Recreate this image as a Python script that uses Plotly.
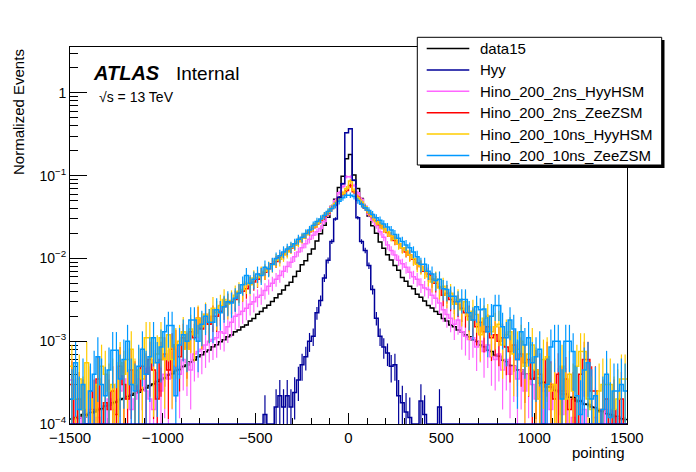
import numpy as np
import plotly.graph_objects as go

# ---------------- data ----------------
X_MIN, X_MAX, BIN_WIDTH = -1500, 1500, 20
Y_MIN_LOG, Y_MAX_LOG = -4.0, 0.554

DATA15 = [
    1.15e-4, 1.2e-4, 1.18e-4, 1.3e-4, 1.28e-4, 1.38e-4, 1.4e-4, 1.5e-4, 1.53e-4, 1.65e-4, 1.68e-4, 1.8e-4, 1.85e-4, 1.97e-4, 2.03e-4,
    2.15e-4, 2.22e-4, 2.36e-4, 2.42e-4, 2.6e-4, 2.72e-4, 2.92e-4, 3.05e-4, 3.25e-4, 3.45e-4, 3.6e-4, 3.92e-4, 4.05e-4, 4.45e-4, 4.55e-4,
    4.95e-4, 5.15e-4, 5.6e-4, 5.95e-4, 6.5e-4, 6.85e-4, 7.45e-4, 7.85e-4, 8.55e-4, 9.05e-4, 9.85e-4, 1.04e-3, 1.13e-3, 1.19e-3, 1.3e-3,
    1.37e-3, 1.49e-3, 1.57e-3, 1.75e-3, 1.88e-3, 2.12e-3, 2.28e-3, 2.52e-3, 2.72e-3, 3.02e-3, 3.35e-3, 3.72e-3, 4.15e-3, 4.72e-3, 5.15e-3,
    6.05e-3, 7.0e-3, 8.4e-3, 9.4e-3, 1.13e-2, 1.3e-2, 1.62e-2, 1.98e-2, 2.52e-2, 3.15e-2, 4.25e-2, 5.2e-2, 7.2e-2, 0.098, 0.16,
    0.18, 0.102, 0.07, 0.053, 0.041, 0.0325, 0.0248, 0.0202, 0.0158, 0.0133, 0.0111, 0.0096, 0.0082, 0.0072, 0.0059,
    0.0053, 0.0046, 0.0043, 0.0037, 0.0034, 0.00305, 0.0027, 0.00252, 0.00228, 0.00212, 0.00188, 0.00176, 0.00157, 0.0015, 0.00137,
    0.0013, 0.00119, 0.00113, 0.00104, 0.00099, 0.0009, 0.00086, 0.00078, 0.00075, 0.00068, 0.00066, 0.00059, 0.00057, 0.00051, 0.0005,
    0.00045, 0.00045, 0.0004, 0.0004, 0.00035, 0.00036, 0.00031, 0.00032, 0.00028, 0.00028, 0.000255, 0.00025, 0.00023, 0.00023, 0.00021,
    0.00021, 0.00019, 0.00019, 0.000175, 0.000172, 0.00016, 0.000157, 0.000145, 0.000143, 0.000133, 0.00013, 0.000124, 0.000121, 0.000116, 0.000113,
]

HYY = [
    0, 0, 0, 0, 0, 0, 0, 0, 0, 0, 0, 0, 0, 0, 0,
    0, 0, 0, 0, 0, 0, 0, 0, 0, 0, 0, 0, 0, 0, 0,
    0, 0, 0, 0, 0, 0, 0, 0, 0, 0, 0, 0, 0, 0, 0,
    0, 0, 0, 0, 0, 0, 0, 1.3e-4, 0, 0, 1.6e-4, 2.2e-4, 1.6e-4, 2.2e-4, 1.6e-4,
    2.4e-4, 3.4e-4, 5.2e-4, 6.5e-4, 1.0e-3, 1.15e-3, 2.2e-3, 3.1e-3, 5.8e-3, 9.5e-3, 1.6e-2, 3.0e-2, 5.5e-2, 8.0e-2, 0.33,
    0.368, 0.088, 0.031, 0.016, 0.0125, 0.0082, 0.0042, 0.0019, 0.00115, 0.00085, 0.00072, 0.0005, 0.00052, 0.00022, 0.00018,
    0.00014, 0.00012, 0, 0, 0.00019, 0.00013, 0, 0, 0, 0.00016, 0, 0, 0, 0, 0,
    0, 0, 0, 0, 0, 0, 0, 0, 0, 0, 0, 0, 0, 0, 0,
    0, 0, 0, 0, 0, 0, 0, 0, 0, 0, 0, 0, 0, 0, 0,
    0, 0, 0, 0, 0, 0, 0, 0, 0, 0, 0, 0, 0, 0, 0,
]

HINO_2NS_HYYHSM = [
    3.4e-4, 0, 1.2e-4, 0, 0, 1.5e-4, 0, 1.2e-4, 0, 0, 2.0e-4, 1.5e-4, 0, 2.5e-4, 3.5e-4,
    2.0e-4, 1.5e-4, 2.0e-4, 3.5e-4, 3.5e-4, 2.5e-4, 2.0e-4, 1.5e-4, 3.0e-4, 2.5e-4, 4.0e-4, 3.5e-4, 4.5e-4, 5.0e-4, 4.0e-4,
    6.0e-4, 5.5e-4, 4.5e-4, 7.0e-4, 7.5e-4, 8.0e-4, 9.0e-4, 1.0e-3, 1.05e-3, 1.1e-3, 1.3e-3, 1.25e-3, 1.5e-3, 1.7e-3, 2.0e-3,
    2.1e-3, 2.3e-3, 2.5e-3, 2.8e-3, 3.0e-3, 3.4e-3, 3.6e-3, 4.1e-3, 4.6e-3, 5.0e-3, 5.6e-3, 6.2e-3, 7.0e-3, 8.0e-3, 9.0e-3,
    1.05e-2, 1.2e-2, 1.35e-2, 1.5e-2, 1.7e-2, 1.9e-2, 2.1e-2, 2.3e-2, 2.8e-2, 3.4e-2, 4.2e-2, 5.0e-2, 6.2e-2, 7.4e-2, 9.7e-2,
    9.7e-2, 7.6e-2, 6.2e-2, 5.2e-2, 4.3e-2, 3.4e-2, 2.9e-2, 2.5e-2, 2.1e-2, 1.8e-2, 1.45e-2, 1.25e-2, 1.1e-2, 9.5e-3, 8.6e-3,
    7.8e-3, 6.8e-3, 6.0e-3, 5.6e-3, 4.8e-3, 4.4e-3, 4.2e-3, 3.6e-3, 3.3e-3, 2.9e-3, 2.4e-3, 2.1e-3, 1.9e-3, 1.6e-3, 1.8e-3,
    1.3e-3, 1.15e-3, 1.05e-3, 1.1e-3, 8.5e-4, 1.0e-3, 7.5e-4, 9.0e-4, 6.5e-4, 6.0e-4, 7.0e-4, 4.5e-4, 6.0e-4, 4.0e-4, 5.0e-4,
    3.5e-4, 4.5e-4, 2.5e-4, 4.0e-4, 3.0e-4, 2.0e-4, 3.5e-4, 2.5e-4, 2.5e-4, 1.5e-4, 3.0e-4, 2.5e-4, 1.3e-4, 2.5e-4, 0,
    1.2e-4, 0, 0, 1.5e-4, 0, 0, 1.2e-4, 0, 0, 1.5e-4, 0, 0, 1.2e-4, 0, 0,
]

HINO_2NS_ZEEZSM = [
    3.0e-4, 0, 2.0e-4, 1.5e-4, 0, 2.5e-4, 1.5e-4, 3.5e-4, 0, 1.8e-4, 1.5e-4, 2.5e-4, 1.3e-4, 5.0e-4, 3.0e-4,
    2.0e-4, 4.5e-4, 3.0e-4, 2.5e-4, 5.0e-4, 4.0e-4, 6.0e-4, 4.5e-4, 2.0e-4, 6.0e-4, 7.0e-4, 4.5e-4, 8.0e-4, 9.0e-4, 6.5e-4,
    1.1e-3, 8.0e-4, 1.3e-3, 1.1e-3, 1.9e-3, 1.4e-3, 2.1e-3, 1.6e-3, 2.0e-3, 2.0e-3, 2.3e-3, 2.6e-3, 2.9e-3, 3.0e-3, 3.2e-3,
    3.9e-3, 4.0e-3, 4.3e-3, 4.9e-3, 5.2e-3, 5.6e-3, 6.5e-3, 6.8e-3, 7.5e-3, 8.6e-3, 9.2e-3, 1.03e-2, 1.12e-2, 1.22e-2, 1.33e-2,
    1.45e-2, 1.6e-2, 1.75e-2, 1.95e-2, 2.1e-2, 2.35e-2, 2.6e-2, 2.9e-2, 3.2e-2, 3.55e-2, 4.0e-2, 4.5e-2, 5.2e-2, 6.0e-2, 6.6e-2,
    7.6e-2, 6.4e-2, 5.5e-2, 4.6e-2, 4.1e-2, 3.6e-2, 3.2e-2, 2.85e-2, 2.55e-2, 2.3e-2, 2.05e-2, 1.85e-2, 1.65e-2, 1.5e-2, 1.35e-2,
    1.2e-2, 1.1e-2, 9.8e-3, 8.8e-3, 8.0e-3, 7.0e-3, 6.5e-3, 5.6e-3, 5.0e-3, 4.5e-3, 3.6e-3, 3.8e-3, 3.2e-3, 3.0e-3, 2.8e-3,
    2.5e-3, 2.2e-3, 2.0e-3, 1.8e-3, 1.5e-3, 1.7e-3, 1.3e-3, 1.5e-3, 1.1e-3, 1.2e-3, 1.0e-3, 1.1e-3, 8.5e-4, 7.5e-4, 9.0e-4,
    6.0e-4, 7.0e-4, 5.5e-4, 6.0e-4, 3.5e-4, 4.5e-4, 4.0e-4, 0, 6.0e-4, 3.0e-4, 2.0e-4, 4.0e-4, 2.5e-4, 3.5e-4, 1.5e-4,
    2.0e-4, 0, 4.0e-4, 6.0e-4, 6.0e-4, 2.5e-4, 2.5e-4, 0, 1.5e-4, 2.0e-4, 0, 1.5e-4, 0, 2.0e-4, 0,
]

HINO_10NS_HYYHSM = [
    5.0e-4, 2.0e-4, 3.5e-4, 1.5e-4, 5.5e-4, 2.0e-4, 0, 3.0e-4, 5.0e-4, 4.0e-4, 2.5e-4, 3.0e-4, 0, 5.5e-4, 4.0e-4,
    6.0e-4, 8.0e-4, 3.0e-4, 4.5e-4, 3.5e-4, 1.1e-3, 1.1e-3, 5.5e-4, 7.0e-4, 1.1e-3, 6.0e-4, 1.2e-3, 6.0e-4, 9.0e-4, 1.0e-3,
    1.3e-3, 8.0e-4, 1.4e-3, 1.2e-3, 1.9e-3, 1.5e-3, 2.1e-3, 1.7e-3, 2.5e-3, 2.2e-3, 2.7e-3, 3.2e-3, 2.8e-3, 3.1e-3, 3.6e-3,
    4.0e-3, 4.2e-3, 5.0e-3, 4.8e-3, 5.8e-3, 5.9e-3, 6.5e-3, 7.0e-3, 7.6e-3, 8.4e-3, 9.5e-3, 9.8e-3, 1.1e-2, 1.2e-2, 1.35e-2,
    1.45e-2, 1.6e-2, 1.75e-2, 1.95e-2, 2.15e-2, 2.4e-2, 2.65e-2, 2.95e-2, 3.3e-2, 3.6e-2, 4.1e-2, 4.6e-2, 5.2e-2, 6.1e-2, 7.0e-2,
    8.6e-2, 6.6e-2, 5.4e-2, 4.8e-2, 4.2e-2, 3.6e-2, 3.2e-2, 2.8e-2, 2.6e-2, 2.3e-2, 2.1e-2, 1.85e-2, 1.7e-2, 1.5e-2, 1.35e-2,
    1.25e-2, 1.1e-2, 1.0e-2, 8.5e-3, 8.0e-3, 7.2e-3, 6.0e-3, 5.2e-3, 5.6e-3, 4.4e-3, 4.6e-3, 3.6e-3, 3.8e-3, 2.8e-3, 3.2e-3,
    2.4e-3, 3.0e-3, 1.8e-3, 2.3e-3, 2.1e-3, 1.2e-3, 1.9e-3, 2.0e-3, 1.3e-3, 1.5e-3, 1.6e-3, 9.0e-4, 1.2e-3, 1.3e-3, 7.0e-4,
    8.0e-4, 1.0e-3, 5.0e-4, 7.0e-4, 9.0e-4, 4.5e-4, 2.0e-4, 6.0e-4, 6.5e-4, 2.5e-4, 3.0e-4, 0, 5.0e-4, 2.0e-4, 4.0e-4,
    2.5e-4, 5.0e-4, 7.5e-4, 7.5e-4, 2.0e-4, 1.5e-4, 0, 2.5e-4, 3.0e-4, 3.0e-4, 3.0e-4, 1.5e-4, 2.0e-4, 3.5e-4, 3.5e-4,
]

HINO_10NS_ZEEZSM = [
    2.0e-4, 5.5e-4, 1.5e-4, 3.0e-4, 0, 2.5e-4, 4.0e-4, 6.5e-4, 3.0e-4, 2.2e-4, 4.5e-4, 7.8e-4, 7.8e-4, 3.5e-4, 6.0e-4,
    1.0e-3, 3.0e-4, 2.5e-4, 5.0e-4, 8.0e-4, 4.0e-4, 6.5e-4, 1.1e-3, 5.5e-4, 8.5e-4, 1.3e-3, 1.55e-3, 1.55e-3, 2.2e-4, 9.0e-4,
    1.2e-3, 1.0e-3, 1.8e-3, 1.8e-3, 1.0e-3, 1.6e-3, 2.0e-3, 1.7e-3, 1.7e-3, 2.4e-3, 2.2e-3, 2.6e-3, 3.0e-3, 2.9e-3, 3.3e-3,
    3.8e-3, 4.8e-3, 6.2e-3, 5.0e-3, 5.6e-3, 6.5e-3, 6.2e-3, 7.8e-3, 7.5e-3, 8.5e-3, 1.0e-2, 1.08e-2, 1.2e-2, 1.3e-2, 1.38e-2,
    1.5e-2, 1.7e-2, 1.8e-2, 2.0e-2, 2.2e-2, 2.5e-2, 2.8e-2, 3.0e-2, 3.3e-2, 3.7e-2, 4.0e-2, 4.4e-2, 4.9e-2, 5.4e-2, 5.8e-2,
    5.8e-2, 5.6e-2, 5.0e-2, 4.5e-2, 4.1e-2, 3.8e-2, 3.4e-2, 3.1e-2, 2.9e-2, 2.6e-2, 2.4e-2, 2.2e-2, 1.95e-2, 1.75e-2, 1.6e-2,
    1.45e-2, 1.35e-2, 1.2e-2, 1.05e-2, 8.5e-3, 8.5e-3, 7.0e-3, 6.5e-3, 5.4e-3, 5.6e-3, 4.3e-3, 4.2e-3, 3.5e-3, 3.5e-3, 3.0e-3,
    3.2e-3, 3.2e-3, 2.2e-3, 1.8e-3, 2.6e-3, 2.4e-3, 2.45e-3, 1.3e-3, 2.0e-3, 2.7e-3, 2.7e-3, 1.5e-3, 1.1e-3, 1.8e-3, 1.4e-3,
    6.0e-4, 1.3e-3, 9.0e-4, 1.1e-3, 5.5e-4, 6.5e-4, 8.0e-4, 0, 3.0e-4, 8.5e-4, 1.0e-3, 1.0e-3, 2.0e-4, 1.0e-3, 1.0e-3,
    7.5e-4, 2.2e-4, 1.3e-4, 4.5e-4, 5.5e-4, 2.0e-4, 2.2e-4, 0, 1.5e-4, 4.0e-4, 1.2e-4, 2.5e-4, 2.5e-4, 3.0e-4, 2.5e-4,
]

SERIES_NAMES = ["data15", "Hyy", "Hino_200_2ns_HyyHSM", "Hino_200_2ns_ZeeZSM",
                "Hino_200_10ns_HyyHSM", "Hino_200_10ns_ZeeZSM"]
SERIES_VALUES = [DATA15, HYY, HINO_2NS_HYYHSM, HINO_2NS_ZEEZSM, HINO_10NS_HYYHSM, HINO_10NS_ZEEZSM]
# effective (unweighted) statistics used for Poisson-like error bars
SERIES_NEFF = [2.0e6, 1.5e4, 5.0e3, 4.0e3, 3.0e3, 3.0e3]
SERIES_COLORS = ["#000000", "#000099", "#ff66ff", "#ff0000", "#ffcc00", "#0099ff"]

X_TICKS = [-1500, -1000, -500, 0, 500, 1000, 1500]
X_TICK_TEXT = ["\u22121500", "\u22121000", "\u2212500", "0", "500", "1000", "1500"]
Y_TICKS = [1e-4, 1e-3, 1e-2, 1e-1, 1]
Y_TICK_TEXT = ["10<sup>\u22124</sup>", "10<sup>\u22123</sup>", "10<sup>\u22122</sup>",
               "10<sup>\u22121</sup>", "1"]

# ---------------- figure ----------------
# the page body has an 8px default margin; the figure is sized so that the
# plot frame lands at window pixels x 70..627, y 47..424
OFF = 8
WIN_W, WIN_H = 696, 472
FR_L, FR_R, FR_T, FR_B = 70, 627, 47, 424
W, H = WIN_W - OFF, WIN_H - OFF
ML, MT = FR_L - OFF, FR_T - OFF
MR, MB = WIN_W - FR_R, WIN_H - FR_B
PW, PH = FR_R - FR_L, FR_B - FR_T
FONT = "Liberation Sans, Arial, Helvetica, sans-serif"


def px_x(p):
    return (p - FR_L) / PW


def px_y(p):
    return (FR_B - p) / PH


edges = np.arange(X_MIN, X_MAX + BIN_WIDTH, BIN_WIDTH)
centers = edges[:-1] + BIN_WIDTH / 2.0
floor = 10 ** Y_MIN_LOG

fig = go.Figure()
draw_order = [0, 2, 3, 4, 5, 1]
for idx in draw_order:
    vals = np.array(SERIES_VALUES[idx], dtype=float)
    color = SERIES_COLORS[idx]
    step_y = np.append(np.maximum(vals, floor), max(vals[-1], floor))
    fig.add_trace(go.Scatter(
        x=edges, y=step_y, mode="lines", line=dict(color=color, width=1.5, shape="hv"),
        showlegend=False, hoverinfo="skip"))
    err = np.sqrt(vals / SERIES_NEFF[idx])
    mask = vals > 0
    fig.add_trace(go.Scatter(
        x=centers[mask], y=vals[mask], mode="markers",
        marker=dict(size=1, color=color, opacity=0),
        error_y=dict(type="data", symmetric=False, array=err[mask],
                     arrayminus=np.minimum(err[mask], vals[mask] * 0.999),
                     color=color, thickness=1.2, width=0),
        showlegend=False, hoverinfo="skip"))

y_minor = [k * 10.0 ** d for d in range(-4, 1) for k in range(2, 10) if k * 10.0 ** d < 10 ** Y_MAX_LOG]
x_minor = [v for v in range(-1400, 1500, 100) if v % 500 != 0]

fig.update_layout(
    width=W, height=H,
    margin=dict(l=ML, r=MR, t=MT, b=MB, pad=0),
    paper_bgcolor="white", plot_bgcolor="white",
    font=dict(family=FONT, size=15, color="black"),
    showlegend=False,
    xaxis=dict(range=[X_MIN, X_MAX], showgrid=False, zeroline=False,
               showline=True, mirror=True, linecolor="black", linewidth=1,
               ticks="inside", ticklen=11, tickwidth=1, tickcolor="black",
               tickvals=X_TICKS, ticktext=X_TICK_TEXT, tickfont=dict(size=15),
               minor=dict(tickvals=x_minor, ticks="inside", ticklen=6, tickcolor="black"),
               layer="below traces"),
    yaxis=dict(type="log", range=[Y_MIN_LOG, Y_MAX_LOG], showgrid=False, zeroline=False,
               showline=True, mirror=True, linecolor="black", linewidth=1,
               ticks="inside", ticklen=17, tickwidth=1, tickcolor="black",
               tickvals=Y_TICKS, ticktext=Y_TICK_TEXT, tickfont=dict(size=14),
               minor=dict(tickvals=y_minor, ticks="inside", ticklen=8, tickcolor="black"),
               layer="below traces"),
)

ann = []
ann.append(dict(text="<b><i>ATLAS</i></b>", x=px_x(91), y=px_y(73), xref="paper", yref="paper",
                xanchor="left", yanchor="middle", showarrow=False, font=dict(size=20)))
ann.append(dict(text="Internal", x=px_x(174), y=px_y(73), xref="paper", yref="paper",
                xanchor="left", yanchor="middle", showarrow=False, font=dict(size=19)))
ann.append(dict(text="\u221as = 13 TeV", x=px_x(97), y=px_y(97), xref="paper", yref="paper",
                xanchor="left", yanchor="middle", showarrow=False, font=dict(size=14)))
ann.append(dict(text="Normalized Events", x=px_x(18), y=px_y(47), xref="paper", yref="paper",
                xanchor="center", yanchor="top", textangle=-90, showarrow=False, font=dict(size=15)))
ann.append(dict(text="pointing", x=px_x(627), y=px_y(452), xref="paper", yref="paper",
                xanchor="right", yanchor="middle", showarrow=False, font=dict(size=15)))

shapes = []
# legend box with ROOT-like shadow
shapes.append(dict(type="rect", xref="paper", yref="paper", layer="above",
                   x0=px_x(420), x1=px_x(664.5), y0=px_y(168), y1=px_y(40),
                   fillcolor="black", line=dict(width=0)))
shapes.append(dict(type="rect", xref="paper", yref="paper", layer="above",
                   x0=px_x(417.3), x1=px_x(661.7), y0=px_y(165), y1=px_y(37.3),
                   fillcolor="white", line=dict(color="black", width=1)))
legend_order = [0, 1, 2, 3, 4, 5]
for row, idx in enumerate(legend_order):
    yp = 48.5 + 21.4 * row
    shapes.append(dict(type="line", xref="paper", yref="paper", layer="above",
                       x0=px_x(426.7), x1=px_x(469.3), y0=px_y(yp), y1=px_y(yp),
                       line=dict(color=SERIES_COLORS[idx], width=1.5)))
    ann.append(dict(text=SERIES_NAMES[idx], x=px_x(478), y=px_y(yp), xref="paper", yref="paper",
                    xanchor="left", yanchor="middle", showarrow=False, font=dict(size=15)))

fig.update_layout(annotations=ann, shapes=shapes)
fig.write_html("out.html")
